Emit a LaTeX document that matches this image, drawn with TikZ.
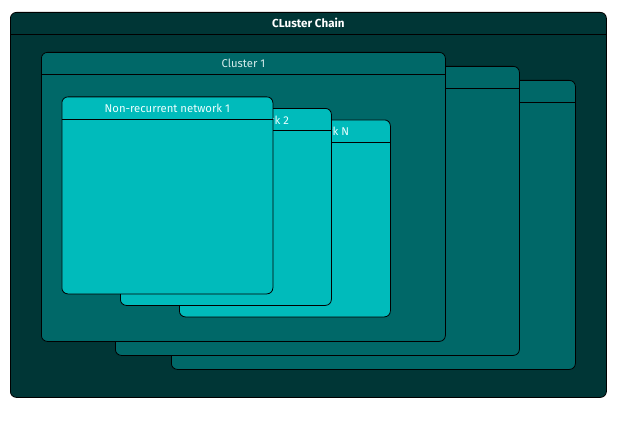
\documentclass[tikz,border=0pt]{standalone}
\usepackage{fontspec}
\setmainfont{Fira Sans}
\usetikzlibrary{positioning}
\definecolor{chainfill}{HTML}{003636}
\definecolor{clusterfill}{HTML}{006868}
\definecolor{netfill}{HTML}{00BBBB}
\definecolor{clustertext}{HTML}{D6ECEC}
\definecolor{nettext}{HTML}{EAFFFF}
\begin{document}
\begin{tikzpicture}[x=1pt,y=-1pt,
  frame/.style={draw=black,line width=0.8pt,rounded corners=6pt,anchor=north west,inner sep=0pt},
  chainbox/.style={frame,fill=chainfill,minimum width=596pt,minimum height=385pt},
  clusterbox/.style={frame,fill=clusterfill,minimum width=404pt,minimum height=289pt},
  netbox/.style={frame,fill=netfill,minimum width=211pt,minimum height=197pt},
  headline/.style={draw=black,line width=0.8pt},
  title/.style={font=\fontsize{11.3}{13}\selectfont}]
\useasboundingbox (0,0) rectangle (636,425);
% outer chain
\node[chainbox] (chain) at (10,12) {};
\draw[headline] ([yshift=-22pt]chain.north west) -- ([yshift=-22pt]chain.north east);
\node[title,font=\fontsize{11.6}{13}\selectfont\bfseries,text=white] (chaintitle) at ([yshift=-11pt]chain.north) {CLuster Chain};
% clusters, back to front
\node[clusterbox] (cl3) at (171,80) {};
\draw[headline] ([yshift=-22pt]cl3.north west) -- ([yshift=-22pt]cl3.north east);
\node[clusterbox] (cl2) at (115,66) {};
\draw[headline] ([yshift=-22pt]cl2.north west) -- ([yshift=-22pt]cl2.north east);
\node[clusterbox] (cl1) at (41,52) {};
\draw[headline] ([yshift=-22pt]cl1.north west) -- ([yshift=-22pt]cl1.north east);
\node[title,text=clustertext] (cl1title) at ([yshift=-11.5pt]cl1.north) {Cluster 1};
% networks, back to front
\node[netbox] (netN) at (179,119.5) {};
\draw[headline] ([yshift=-22.5pt]netN.north west) -- ([yshift=-22.5pt]netN.north east);
\node[title,text=nettext] (netNtitle) at ([yshift=-12pt]netN.north) {Non-recurrent network N};
\node[netbox] (net2) at (120,108) {};
\draw[headline] ([yshift=-22.5pt]net2.north west) -- ([yshift=-22.5pt]net2.north east);
\node[title,text=nettext] (net2title) at ([yshift=-12pt]net2.north) {Non-recurrent network 2};
\node[netbox] (net1) at (61.5,96.5) {};
\draw[headline] ([yshift=-22.5pt]net1.north west) -- ([yshift=-22.5pt]net1.north east);
\node[title,text=nettext] (net1title) at ([yshift=-12pt]net1.north) {Non-recurrent network 1};
\end{tikzpicture}
\end{document}
